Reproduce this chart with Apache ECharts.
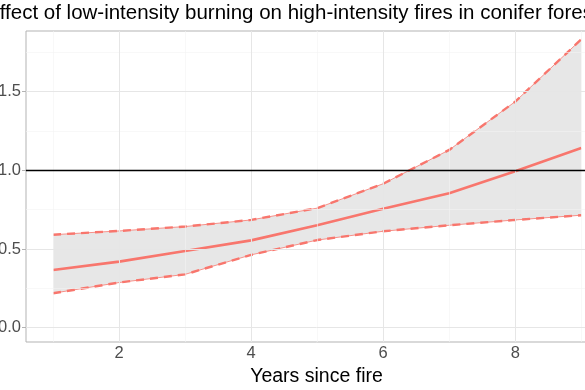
<!DOCTYPE html>
<html>
<head>
<meta charset="utf-8">
<script src="https://cdn.jsdelivr.net/npm/echarts@6/dist/echarts.min.js"></script>
<style>
html,body{margin:0;padding:0;background:#fff;overflow:hidden;width:585px;height:390px;}
#chart{width:640px;height:390px;}
</style>
</head>
<body>
<div id="chart"></div>
<script>
var years = [1, 2, 3, 4, 5, 6, 7, 8, 9];
var meanEffect = [0.367, 0.42, 0.488, 0.555, 0.651, 0.756, 0.855, 0.995, 1.142];
var upperCI = [0.591, 0.615, 0.643, 0.685, 0.76, 0.915, 1.13, 1.437, 1.833];
var lowerCI = [0.219, 0.287, 0.339, 0.463, 0.557, 0.613, 0.651, 0.685, 0.715];
var xTicks = [2, 4, 6, 8];
var xMinor = [1, 3, 5, 7, 9];
var yTicks = [0, 0.5, 1.0, 1.5];
var yMinor = [0.25, 0.75, 1.25, 1.75];
var refLine = 1.0;
var titleText = 'Effect of low-intensity burning on high-intensity fires in conifer forests';
var xName = 'Years since fire';

var RED = '#F8766D';
var FONT = '"Liberation Sans", Arial, Helvetica, sans-serif';

function pairs(ys) { return years.map(function (x, i) { return [x, ys[i]]; }); }

var chart = echarts.init(document.getElementById('chart'), null, {renderer: 'canvas'});

var gridLines = [];
xMinor.forEach(function (v) { gridLines.push({xAxis: v, lineStyle: {color: '#f4f4f4', width: 0.6, type: 'solid'}}); });
yMinor.forEach(function (v) { gridLines.push({yAxis: v, lineStyle: {color: '#f4f4f4', width: 0.6, type: 'solid'}}); });
xTicks.forEach(function (v) { gridLines.push({xAxis: v, lineStyle: {color: '#e6e6e6', width: 1, type: 'solid'}}); });
yTicks.forEach(function (v) { gridLines.push({yAxis: v, lineStyle: {color: '#e6e6e6', width: 1, type: 'solid'}}); });

var option = {
  animation: false,
  backgroundColor: '#ffffff',
  grid: {left: 26, top: 31, width: 581, height: 311, show: true, borderColor: '#b3b3b3', borderWidth: 1,
    backgroundColor: 'transparent', containLabel: false, outerBoundsMode: 'none'},
  graphic: [{
    type: 'text', x: 297.5, y: 13.5,
    style: {text: titleText, fill: '#000', font: '20.5px ' + FONT, textAlign: 'center', textVerticalAlign: 'middle'}
  }],
  xAxis: {
    type: 'value', min: 0.59, max: 9.39,
    axisLine: {show: false},
    splitLine: {show: false},
    axisTick: {show: true, customValues: xTicks, length: 3, lineStyle: {color: '#b3b3b3', width: 1}},
    axisLabel: {customValues: xTicks, color: '#4d4d4d', fontSize: 16.5, fontFamily: FONT, margin: 3},
    name: xName, nameLocation: 'middle', nameGap: 20,
    nameTextStyle: {color: '#000', fontSize: 19.5, fontFamily: FONT, verticalAlign: 'top'}
  },
  yAxis: {
    type: 'value', min: -0.091, max: 1.886,
    axisLine: {show: false},
    splitLine: {show: false},
    axisTick: {show: true, customValues: yTicks, length: 4, lineStyle: {color: '#b3b3b3', width: 1}},
    axisLabel: {customValues: yTicks, color: '#4d4d4d', fontSize: 16.5, fontFamily: FONT, margin: 5,
      formatter: function (v) { return v.toFixed(1); }}
  },
  series: [
    {
      type: 'line', name: 'grid', data: [], silent: true, z: 0,
      markLine: {silent: true, symbol: 'none', label: {show: false}, animation: false, data: gridLines}
    },
    {
      type: 'custom', name: 'band', silent: true, z: 1,
      data: [[years[0], lowerCI[0]]],
      renderItem: function (params, api) {
        var pts = [];
        for (var i = 0; i < years.length; i++) pts.push(api.coord([years[i], upperCI[i]]));
        for (var j = years.length - 1; j >= 0; j--) pts.push(api.coord([years[j], lowerCI[j]]));
        return {type: 'polygon', shape: {points: pts}, style: {fill: 'rgba(120,120,120,0.18)', stroke: null}};
      }
    },
    {
      type: 'line', name: 'ref', data: [], silent: true, z: 2,
      markLine: {silent: true, symbol: 'none', label: {show: false}, animation: false,
        data: [{yAxis: refLine, lineStyle: {color: '#000', width: 1.3, type: 'solid'}}]}
    },
    {type: 'line', name: 'upperThin', data: pairs(upperCI), symbol: 'none', silent: true, z: 3, lineStyle: {color: RED, width: 0.8}},
    {type: 'line', name: 'lowerThin', data: pairs(lowerCI), symbol: 'none', silent: true, z: 3, lineStyle: {color: RED, width: 0.8}},
    {type: 'line', name: 'upper', data: pairs(upperCI), symbol: 'none', silent: true, z: 3, lineStyle: {color: RED, width: 2.4, type: [8, 6]}},
    {type: 'line', name: 'lower', data: pairs(lowerCI), symbol: 'none', silent: true, z: 3, lineStyle: {color: RED, width: 2.4, type: [8, 6]}},
    {type: 'line', name: 'mean', data: pairs(meanEffect), symbol: 'none', silent: true, z: 4, lineStyle: {color: RED, width: 2.6}}
  ]
};
chart.setOption(option);
</script>
</body>
</html>
